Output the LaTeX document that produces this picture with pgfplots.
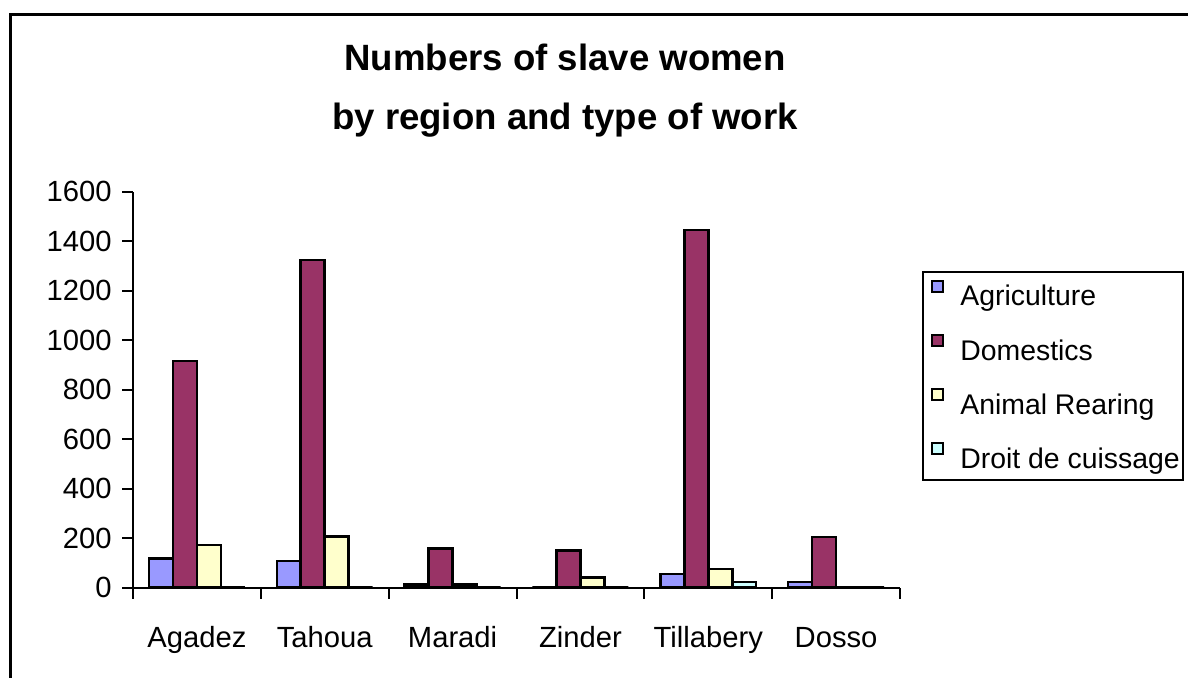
\documentclass[border=0pt]{standalone}
\usepackage{pgfplots}
\pgfplotsset{compat=1.18}
\usepackage{fontspec}
\setmainfont{Liberation Sans}
\definecolor{cAgri}{HTML}{9999FF}
\definecolor{cDom}{HTML}{993366}
\definecolor{cAnim}{HTML}{FFFFCC}
\definecolor{cDroit}{HTML}{CCFFFF}
\begin{document}
\begin{tikzpicture}[x=1pt,y=1pt]
\useasboundingbox (0,0) rectangle (594,338.5);
\draw[line width=1.5pt] (5,-2) -- (5,331.5) -- (596,331.5);
\node[font=\fontsize{18.3}{22}\selectfont\bfseries, anchor=base] at (282.5,303.5) {Numbers of slave women};
\node[font=\fontsize{18.3}{22}\selectfont\bfseries, anchor=base] at (282.5,274) {by region and type of work};
\begin{axis}[
  at={(66.5pt,44.75pt)}, anchor=south west,
  scale only axis, width=383.5pt, height=198pt,
  xmin=0, xmax=6, ymin=0, ymax=1600,
  axis lines=left, axis line style={-, line width=1pt},
  every tick/.style={black, line width=1pt},
  tick align=outside, major tick length=5.5pt,
  xtick={0,...,6}, xticklabels={},
  extra x ticks={0.5,1.5,2.5,3.5,4.5,5.5},
  extra x tick labels={Agadez,Tahoua,Maradi,Zinder,Tillabery,Dosso},
  extra x tick style={major tick length=0pt, xticklabel style={anchor=base, yshift=-29.75pt}},
  ytick={0,200,...,1600},
  /pgf/number format/assume math mode=true,
  /pgf/number format/1000 sep={},
  tick label style={font=\fontsize{14.6}{17}\selectfont},
  yticklabel style={anchor=east, inner sep=0pt, xshift=-5pt},
  ybar=0pt, bar width=0.1875,
  every axis plot/.append style={draw=black, line width=1.3pt},
  legend style={at={(1.0287,0.7993)}, anchor=north west, draw=black, line width=1pt,
    inner xsep=1.5pt, inner ysep=4pt, row sep=12.05pt,
    font=\fontsize{14.2}{17}\selectfont,
    nodes={inner sep=0pt, text height=10pt, text depth=2pt},
    /tikz/every odd column/.append style={column sep=8pt}},
  legend cell align=left,
  legend image code/.code={\path (0pt,3pt); \draw[#1, line width=1pt] (2.5pt,3pt) rectangle (8pt,8.5pt);},
]
\addplot[fill=cAgri] coordinates {(0.5,118) (1.5,107) (2.5,11) (3.5,0) (4.5,55) (5.5,23)};
\addplot[fill=cDom] coordinates {(0.5,915) (1.5,1323) (2.5,158) (3.5,150) (4.5,1444) (5.5,204)};
\addplot[fill=cAnim] coordinates {(0.5,172) (1.5,205) (2.5,11) (3.5,41) (4.5,74) (5.5,0)};
\addplot[fill=cDroit] coordinates {(0.5,0) (1.5,0) (2.5,0) (3.5,0) (4.5,23) (5.5,0)};
\legend{Agriculture,Domestics,Animal Rearing,Droit de cuissage}
\end{axis}
\end{tikzpicture}
\end{document}
